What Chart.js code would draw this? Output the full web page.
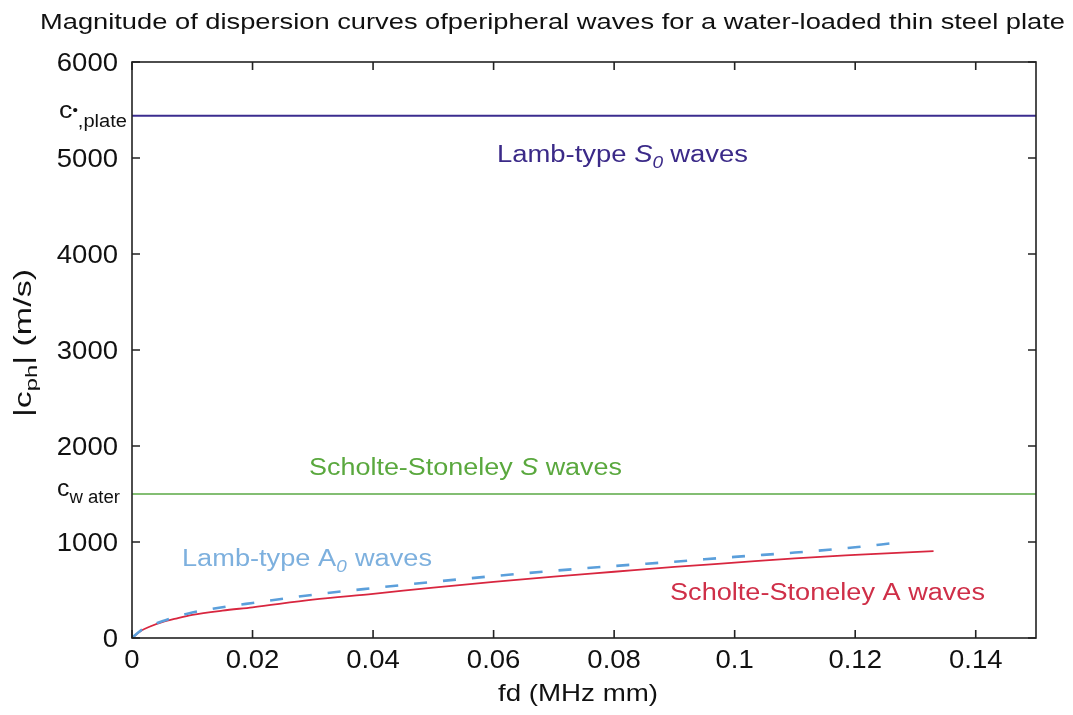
<!DOCTYPE html>
<html lang="en">
<head>
    <meta charset="UTF-8">
    <title>Magnitude of dispersion curves</title>
    <script src="https://cdn.jsdelivr.net/npm/chart.js"></script>
    <style>
        body { margin: 0; padding: 0; background: #fff; }
        #wrap { width: 1073px; height: 715px; }
    </style>
</head>
<body>
<div id="wrap">
    <canvas id="dispersionChart" width="1073" height="715"></canvas>
</div>
<script>
    // values (fd in MHz mm, |c_ph| in m/s)
    const fdA = [0, 0.0015, 0.003, 0.005, 0.0075, 0.01, 0.015, 0.02, 0.03, 0.04, 0.05, 0.06, 0.07, 0.08, 0.09, 0.1, 0.11, 0.12, 0.133];
    const scholteA = [0, 75, 120, 165, 205, 240, 285, 320, 400, 460, 525, 585, 640, 690, 740, 785, 830, 865, 906];
    const fdA0 = [0, 0.0015, 0.003, 0.005, 0.0075, 0.01, 0.015, 0.02, 0.03, 0.04, 0.05, 0.06, 0.07, 0.08, 0.09, 0.1, 0.11, 0.12, 0.1265];
    const lambA0 = [0, 80, 125, 175, 225, 265, 320, 365, 450, 520, 585, 645, 700, 750, 795, 845, 890, 945, 990];
    const fdRange = [0, 0.15];
    const cPlate = 5440;   // Lamb-type S0 / plate velocity
    const cWater = 1500;   // Scholte-Stoneley S / water

    const xTicks = [0, 0.02, 0.04, 0.06, 0.08, 0.1, 0.12, 0.14];
    const yTicks = [0, 1000, 2000, 3000, 4000, 5000, 6000];

    const FONT = 'Arial, "Liberation Sans", sans-serif';

    function pts(xs, ys) {
        return xs.map((x, i) => ({ x: x, y: ys[i] }));
    }

    // draws a run of text pieces, stretched sideways to a given width
    // (the original figure has wide, slightly stretched lettering)
    function drawRuns(ctx, runs, x, y, width, align) {
        let natural = 0;
        runs.forEach(r => {
            ctx.font = r.font;
            r.w = ctx.measureText(r.t).width;
            natural += r.w + (r.gap || 0);
        });
        const sx = width ? width / natural : 1;
        const total = natural * sx;
        let x0 = x;
        if (align === 'center') x0 = x - total / 2;
        if (align === 'right') x0 = x - total;
        ctx.save();
        ctx.translate(x0, y);
        ctx.scale(sx, 1);
        ctx.textAlign = 'left';
        ctx.textBaseline = 'alphabetic';
        let cx = 0;
        runs.forEach(r => {
            ctx.font = r.font;
            ctx.fillText(r.t, cx, r.dy || 0);
            cx += r.w + (r.gap || 0);
        });
        ctx.restore();
    }

    const F = (size, style) => (style ? style + ' ' : '') + size + 'px ' + FONT;

    // frame, inward ticks, tick labels and all the extra text
    const decorations = {
        id: 'decorations',
        afterDraw(chart) {
            const ctx = chart.ctx;
            const a = chart.chartArea;
            const xs = chart.scales.x, ys = chart.scales.y;
            ctx.save();
            ctx.strokeStyle = '#222';
            ctx.lineWidth = 1.6;
            ctx.strokeRect(a.left, a.top, a.right - a.left, a.bottom - a.top);
            ctx.beginPath();
            xTicks.forEach(v => {
                const px = xs.getPixelForValue(v);
                ctx.moveTo(px, a.bottom); ctx.lineTo(px, a.bottom - 8);
                ctx.moveTo(px, a.top); ctx.lineTo(px, a.top + 8);
            });
            yTicks.forEach(v => {
                const py = ys.getPixelForValue(v);
                ctx.moveTo(a.left, py); ctx.lineTo(a.left + 8, py);
                ctx.moveTo(a.right, py); ctx.lineTo(a.right - 8, py);
            });
            ctx.stroke();

            ctx.fillStyle = '#111';
            // tick labels
            const digitSx = 1.1;
            yTicks.forEach(v => {
                const s = String(v);
                ctx.font = F(25);
                const w = ctx.measureText(s).width * digitSx;
                drawRuns(ctx, [{ t: s, font: F(25) }], 118, ys.getPixelForValue(v) + 9, w, 'right');
            });
            xTicks.forEach(v => {
                const s = String(+v.toFixed(2));
                ctx.font = F(25);
                const w = ctx.measureText(s).width * digitSx;
                drawRuns(ctx, [{ t: s, font: F(25) }], xs.getPixelForValue(v), 668, w, 'center');
            });

            // title
            drawRuns(ctx, [{ t: 'Magnitude of dispersion curves ofperipheral waves for a water-loaded thin steel plate', font: F(22) }],
                40, 29, 1025, 'left');
            // x title
            drawRuns(ctx, [{ t: 'fd (MHz mm)', font: F(24) }], 578, 701, 160, 'center');

            // y title (rotated, with subscript)
            ctx.save();
            ctx.translate(31, 343);
            ctx.rotate(-Math.PI / 2);
            drawRuns(ctx, [
                { t: '|c', font: F(23) },
                { t: 'ph', font: F(16), dy: 6 },
                { t: '| (m/s)', font: F(23) }
            ], 0, 0, 148, 'center');
            ctx.restore();

            // reference velocity labels on the y axis
            const yp = ys.getPixelForValue(cPlate);
            drawRuns(ctx, [
                { t: 'c', font: F(24) },
                { t: '\u2022', font: F(14), dy: -3 },
                { t: ',plate', font: F(18), dy: 9 }
            ], 59, yp + 2, 68, 'left');
            const yw = ys.getPixelForValue(cWater);
            drawRuns(ctx, [
                { t: 'c', font: F(24) },
                { t: 'w ater', font: F(18), dy: 7 }
            ], 57, yw + 2, 63, 'left');

            // curve labels
            ctx.fillStyle = '#3b2a88';
            drawRuns(ctx, [
                { t: 'Lamb-type ', font: F(23) },
                { t: 'S', font: F(23, 'italic') },
                { t: '0', font: F(16, 'italic'), dy: 6, gap: 6 },
                { t: 'waves', font: F(23) }
            ], 497, 162, 251, 'left');

            ctx.fillStyle = '#5aa83e';
            drawRuns(ctx, [
                { t: 'Scholte-Stoneley ', font: F(23) },
                { t: 'S', font: F(23, 'italic') },
                { t: ' waves', font: F(23) }
            ], 309, 475, 313, 'left');

            ctx.fillStyle = '#7db0de';
            drawRuns(ctx, [
                { t: 'Lamb-type A', font: F(23) },
                { t: '0', font: F(16, 'italic'), dy: 6, gap: 7 },
                { t: 'waves', font: F(23) }
            ], 182, 566, 250, 'left');

            ctx.fillStyle = '#cf2f48';
            drawRuns(ctx, [{ t: 'Scholte-Stoneley A waves', font: F(23) }], 670, 600, 315, 'left');
            ctx.restore();
        }
    };

    new Chart(document.getElementById('dispersionChart'), {
        type: 'scatter',
        data: {
            datasets: [
                {
                    label: 'Lamb-type S0 waves',
                    data: pts(fdRange, [cPlate, cPlate]),
                    showLine: true,
                    borderColor: '#3b2c8f',
                    borderWidth: 2,
                    pointRadius: 0
                },
                {
                    label: 'Scholte-Stoneley S waves',
                    data: pts(fdRange, [cWater, cWater]),
                    showLine: true,
                    borderColor: '#5aa845',
                    borderWidth: 1.6,
                    pointRadius: 0
                },
                {
                    label: 'Lamb-type A0 waves',
                    data: pts(fdA0, lambA0),
                    showLine: true,
                    cubicInterpolationMode: 'monotone',
                    borderColor: '#5b9fdb',
                    borderWidth: 2.6,
                    borderDash: [13, 16],
                    pointRadius: 0
                },
                {
                    label: 'Scholte-Stoneley A waves',
                    data: pts(fdA, scholteA),
                    showLine: true,
                    cubicInterpolationMode: 'monotone',
                    borderColor: '#d8263f',
                    borderWidth: 1.8,
                    pointRadius: 0
                }
            ]
        },
        options: {
            responsive: false,
            animation: false,
            devicePixelRatio: 1,
            layout: { padding: { top: 62, right: 37, left: 0, bottom: 0 } },
            plugins: {
                legend: { display: false },
                tooltip: { enabled: false }
            },
            scales: {
                x: {
                    type: 'linear',
                    min: 0,
                    max: 0.15,
                    afterBuildTicks: s => { s.ticks = xTicks.map(v => ({ value: v })); },
                    afterFit: s => { s.height = 77; },
                    grid: { display: false },
                    border: { display: false },
                    ticks: { display: false }
                },
                y: {
                    type: 'linear',
                    min: 0,
                    max: 6000,
                    afterBuildTicks: s => { s.ticks = yTicks.map(v => ({ value: v })); },
                    afterFit: s => { s.width = 132; },
                    grid: { display: false },
                    border: { display: false },
                    ticks: { display: false }
                }
            }
        },
        plugins: [decorations]
    });
</script>
</body>
</html>
